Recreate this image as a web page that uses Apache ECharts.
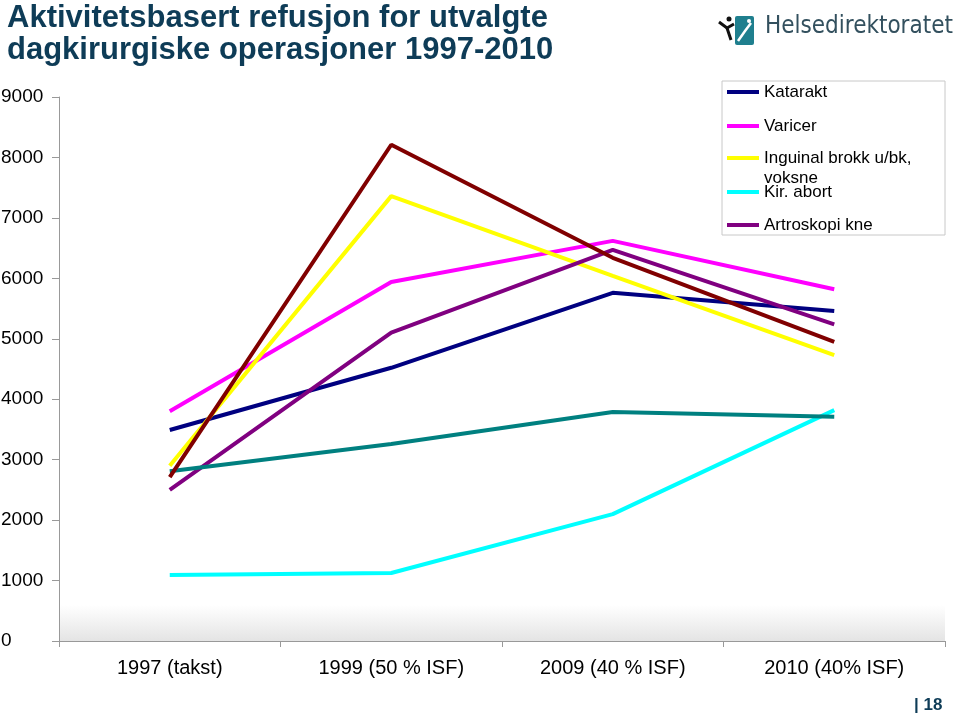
<!DOCTYPE html>
<html><head><meta charset="utf-8">
<script src="https://cdn.jsdelivr.net/npm/echarts@6/dist/echarts.min.js"></script>
<style>html,body{margin:0;padding:0;background:#fff}#c{width:960px;height:715px}</style>
</head><body><div id="c"></div>
<script>
const categories = ['1997 (takst)', '1999 (50 % ISF)', '2009 (40 % ISF)', '2010 (40% ISF)'];
const katarakt = [3490, 4520, 5760, 5460];
const varicer = [3800, 5940, 6620, 5820];
const inguinal = [2900, 7360, 6040, 4730];
const kirAbort = [1090, 1125, 2100, 3820];
const artroskopi = [2500, 5100, 6470, 5240];
const serie6 = [2810, 3260, 3790, 3710];
const serie7 = [2710, 8210, 6340, 4950];
const yTicks = [0, 1000, 2000, 3000, 4000, 5000, 6000, 7000, 8000, 9000];

const chart = echarts.init(document.getElementById('c'));
const F = 'Liberation Sans, Arial, sans-serif';
function line(name, data, color) {
  return { name, type: 'line', data, symbol: 'none', lineStyle: { width: 4, color }, itemStyle: { color }, z: 3 };
}
const legendBase = { orient: 'vertical', left: 727, padding: 0, itemWidth: 32, itemHeight: 4, icon: 'rect',
  itemGap: 0, textStyle: { fontFamily: F, fontSize: 17, color: '#000', lineHeight: 17 } };
chart.setOption({
  animation: false,
  grid: { left: 59, top: 97, right: 15, bottom: 74, containLabel: false, outerBoundsMode: 'none' },
  xAxis: {
    type: 'category', data: categories, boundaryGap: true,
    axisLine: { lineStyle: { color: '#999' } },
    axisTick: { show: true, length: 6, lineStyle: { color: '#999' } },
    axisLabel: { fontFamily: F, fontSize: 20, color: '#000', margin: 17 }
  },
  yAxis: {
    type: 'value', min: yTicks[0], max: yTicks[yTicks.length - 1], interval: 1000,
    splitLine: { show: false },
    axisLine: { show: true, lineStyle: { color: '#999' } },
    axisTick: { show: true, length: 7, lineStyle: { color: '#999' } },
    axisLabel: { fontFamily: F, fontSize: 19, color: '#000', margin: 58, align: 'left',
      formatter: v => String(v) }
  },
  legend: [
    Object.assign({}, legendBase, { top: 83.5, data: ['Katarakt'] }),
    Object.assign({}, legendBase, { top: 117.5, data: ['Varicer'] }),
    Object.assign({}, legendBase, { top: 128, data: ['Inguinal brokk u/bk,\nvoksne'],
      formatter: n => '\u00a0\n' + n,
      textStyle: { fontFamily: F, fontSize: 17, color: '#000', lineHeight: 20 } }),
    Object.assign({}, legendBase, { top: 183.5, data: ['Kir. abort'] }),
    Object.assign({}, legendBase, { top: 216.5, data: ['Artroskopi kne'] })
  ],
  graphic: [
    { type: 'rect', z: 0, shape: { x: 59, y: 605, width: 886, height: 36 },
      style: { fill: { type: 'linear', x: 0, y: 0, x2: 0, y2: 1, colorStops: [{ offset: 0, color: '#ffffff' }, { offset: 1, color: '#e4e4e4' }] } } },
    { type: 'rect', z: 1, shape: { x: 722, y: 81, width: 223, height: 154 }, style: { fill: '#fff', stroke: '#c8c8c8', lineWidth: 1 } },
    { type: 'text', left: 7, top: 2, style: { text: 'Aktivitetsbasert refusjon for utvalgte\ndagkirurgiske operasjoner 1997-2010',
      font: 'bold 31px ' + F, fill: '#0e3c57', lineHeight: 32 } },
    { type: 'rect', shape: { x: 735, y: 16, width: 19, height: 29, r: 2 }, style: { fill: '#1f7f8e' } },
    { type: 'polyline', shape: { points: [[738, 41], [745, 31], [751, 23]] }, style: { stroke: '#fff', lineWidth: 2.5, fill: null } },
    { type: 'circle', shape: { cx: 749, cy: 21, r: 2 }, style: { fill: '#fff' } },
    { type: 'polyline', shape: { points: [[719, 22], [727, 28], [734, 24]] }, style: { stroke: '#111', lineWidth: 3, fill: null } },
    { type: 'polyline', shape: { points: [[727, 28], [731, 40]] }, style: { stroke: '#111', lineWidth: 3, fill: null } },
    { type: 'circle', shape: { cx: 729, cy: 19, r: 2.5 }, style: { fill: '#111' } },
    { type: 'text', left: 765, top: 15, style: { text: 'Helsedirektoratet', font: '24px "DejaVu Sans Condensed", "Liberation Sans Narrow", sans-serif', fill: '#33505e' } },
    { type: 'text', left: 914, top: 697, style: { text: '| 18', font: 'bold 17px ' + F, fill: '#0e3c57' } }
  ],
  series: [
    line('Katarakt', katarakt, '#000080'),
    line('Varicer', varicer, '#ff00ff'),
    line('Inguinal brokk u/bk,\nvoksne', inguinal, '#ffff00'),
    line('Kir. abort', kirAbort, '#00ffff'),
    line('Artroskopi kne', artroskopi, '#800080'),
    line('Serie 6', serie6, '#008080'),
    line('Serie 7', serie7, '#800000')
  ]
});
</script></body></html>
